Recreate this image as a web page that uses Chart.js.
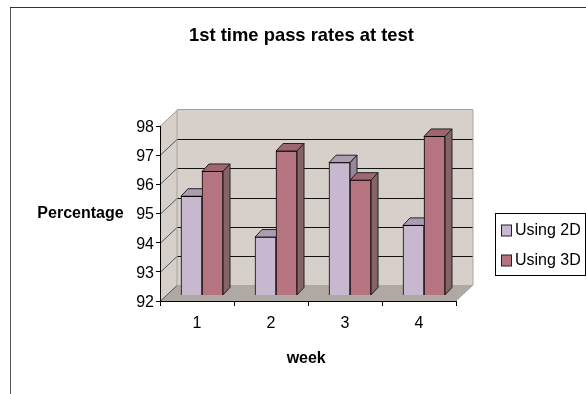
<!DOCTYPE html>
<html>
<head>
<meta charset="utf-8">
<script src="https://cdn.jsdelivr.net/npm/chart.js@4"></script>
<style>
  html, body { margin: 0; padding: 0; background: #fff; }
  canvas { display: block; }
</style>
</head>
<body>
<canvas id="passRates" width="586" height="394"></canvas>
<script>
const weeks = ['1', '2', '3', '4'];
const using2D = [95.4, 94.0, 96.55, 94.4];
const using3D = [96.25, 96.95, 95.95, 97.45];
const seriesNames = ['Using 2D', 'Using 3D'];
const chartTitle = '1st time pass rates at test';
const yTitle = 'Percentage';
const xTitle = 'week';

const font = '"Liberation Sans", Arial, sans-serif';
const faces = [
  { front: '#c8b8cf', top: '#ad9db3', side: '#95889b' },
  { front: '#b57480', top: '#9f6672', side: '#856468' }
];

// fake 3D box: back wall, floor and bar depth, all hung off the real scales
const WALL_DX = 17, WALL_DY = 16;
const BAR_DX = 7, BAR_DY = 7.5;
const SHIFT_X = 5, SHIFT_Y = 5.6;

function poly(ctx, pts, fill, stroke) {
  ctx.beginPath();
  pts.forEach((p, i) => i ? ctx.lineTo(p[0], p[1]) : ctx.moveTo(p[0], p[1]));
  ctx.closePath();
  if (fill) { ctx.fillStyle = fill; ctx.fill(); }
  if (stroke) { ctx.strokeStyle = stroke; ctx.lineWidth = 1; ctx.stroke(); }
}

function line(ctx, x1, y1, x2, y2, color) {
  ctx.beginPath();
  ctx.moveTo(x1, y1);
  ctx.lineTo(x2, y2);
  ctx.strokeStyle = color;
  ctx.lineWidth = 1;
  ctx.stroke();
}

const box3d = {
  id: 'box3d',
  beforeDraw(chart) {
    const { ctx, chartArea: a, scales: { y } } = chart;
    const dx = WALL_DX, dy = WALL_DY;
    ctx.save();
    // outer frame, only left and top show in the reference
    line(ctx, 10.5, 7, 10.5, 394, '#555');
    line(ctx, 10, 7.5, 586, 7.5, '#333');
    // walls
    poly(ctx, [[a.left, a.top], [a.left + dx, a.top - dy], [a.left + dx, a.bottom - dy], [a.left, a.bottom]], '#d6cfca');
    poly(ctx, [[a.left + dx, a.top - dy], [a.right + dx, a.top - dy], [a.right + dx, a.bottom - dy], [a.left + dx, a.bottom - dy]], '#d6cfca');
    poly(ctx, [[a.left, a.bottom], [a.left + dx, a.bottom - dy], [a.right + dx, a.bottom - dy], [a.right, a.bottom]], '#b0a8a2');
    // grid on back wall + the slanted bits on the left wall
    y.ticks.forEach(t => {
      const py = Math.round(y.getPixelForValue(t.value)) + 0.5;
      if (t.value > y.min && t.value < y.max) {
        line(ctx, a.left + dx, py - dy, a.right + dx, py - dy, '#111');
      }
      line(ctx, a.left, py, a.left + dx, py - dy, t.value === y.max ? '#a8a29c' : '#555');
    });
    line(ctx, a.left + dx, a.top - dy - 0.5, a.right + dx, a.top - dy - 0.5, '#a8a29c');
    line(ctx, a.left + dx, a.top - dy, a.left + dx, a.bottom - dy, '#a8a29c');
    line(ctx, a.right + dx, a.top - dy, a.right + dx, a.bottom - dy, '#a8a29c');
    line(ctx, a.right, a.bottom, a.right + dx, a.bottom - dy, '#a8a29c');
    ctx.restore();
  },
  beforeDatasetsDraw(chart) {
    const ctx = chart.ctx;
    ctx.save();
    ctx.translate(SHIFT_X, SHIFT_Y * -1);
    // depth faces first, left series under right series
    chart.data.datasets.forEach((ds, d) => {
      chart.getDatasetMeta(d).data.forEach(bar => {
        const l = bar.x - bar.width / 2, r = bar.x + bar.width / 2;
        poly(ctx, [[l, bar.y], [l + BAR_DX, bar.y - BAR_DY], [r + BAR_DX, bar.y - BAR_DY], [r, bar.y]], faces[d].top, '#222');
        poly(ctx, [[r, bar.y], [r + BAR_DX, bar.y - BAR_DY], [r + BAR_DX, bar.base - BAR_DY], [r, bar.base]], faces[d].side, '#222');
      });
    });
  },
  afterDatasetsDraw(chart) {
    chart.ctx.restore();
  },
  afterDraw(chart) {
    const ctx = chart.ctx;
    ctx.save();
    ctx.fillStyle = '#000';
    ctx.textBaseline = 'middle';
    ctx.textAlign = 'center';
    ctx.font = 'bold 18.4px ' + font;
    ctx.fillText(chartTitle, 301.5, 36);
    ctx.font = 'bold 16px ' + font;
    ctx.fillText(yTitle, 80.5, 213.5);
    ctx.fillText(xTitle, 306.2, 358.5);
    // legend box
    ctx.fillStyle = '#fff';
    ctx.fillRect(495.5, 213.5, 90, 62);
    ctx.strokeStyle = '#000';
    ctx.lineWidth = 1;
    ctx.strokeRect(495.5, 213.5, 90, 62);
    ctx.textAlign = 'left';
    ctx.font = '16px ' + font;
    seriesNames.forEach((name, i) => {
      const cy = 230 + i * 30;
      ctx.fillStyle = faces[i].front;
      ctx.fillRect(501.5, cy - 5, 10, 11);
      ctx.strokeStyle = '#222';
      ctx.strokeRect(501.5, cy - 5, 10, 11);
      ctx.fillStyle = '#000';
      ctx.fillText(name, 515, cy + 1);
    });
    ctx.restore();
  }
};

new Chart(document.getElementById('passRates'), {
  type: 'bar',
  data: {
    labels: weeks,
    datasets: [
      { label: seriesNames[0], data: using2D, base: 92, backgroundColor: faces[0].front, borderColor: '#000', borderWidth: 1 },
      { label: seriesNames[1], data: using3D, base: 92, backgroundColor: faces[1].front, borderColor: '#000', borderWidth: 1 }
    ]
  },
  plugins: [box3d],
  options: {
    responsive: false,
    animation: false,
    events: [],
    layout: { padding: { left: 0, top: 126, right: 130, bottom: 33 } },
    datasets: { bar: { barThickness: 21 } },
    plugins: {
      legend: { display: false },
      title: { display: false },
      tooltip: { enabled: false }
    },
    scales: {
      x: {
        afterFit: s => { s.height = 60; },
        grid: { color: '#000', drawOnChartArea: false, tickLength: 5 },
        border: { color: '#000' },
        ticks: { color: '#000', font: { family: font, size: 16 }, padding: 8, maxRotation: 0 }
      },
      y: {
        min: 92,
        max: 98,
        afterFit: s => { s.width = 160; },
        grid: { color: '#000', drawOnChartArea: false, tickLength: 4 },
        border: { color: '#000' },
        ticks: { stepSize: 1, color: '#000', font: { family: font, size: 16 }, padding: 2, labelOffset: 1.5 }
      }
    }
  }
});
</script>
</body>
</html>
